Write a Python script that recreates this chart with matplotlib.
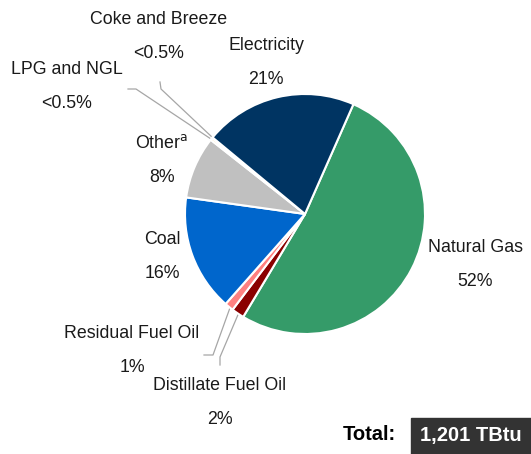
import numpy as np
import matplotlib.pyplot as plt

plt.rcParams['font.family'] = ['Liberation Sans', 'DejaVu Sans']

# shares in percent, clockwise starting at Natural Gas
sectors = ['Natural Gas', 'Distillate Fuel Oil', 'Residual Fuel Oil', 'Coal',
           'Other', 'LPG and NGL', 'Coke and Breeze', 'Electricity']
shares = [52.0, 1.7, 1.2, 15.7, 8.4, 0.3, 0.1, 20.6]
pct_labels = ['52%', '2%', '1%', '16%', '8%', '<0.5%', '<0.5%', '21%']
colors = ['#359B69', '#8B0000', '#FF8080', '#0066CC',
          '#C0C0C0', '#FFC000', '#F2F2F2', '#003462']
total_label = '1,201 TBtu'

W, H = 531, 454


def px(x, y):
    # pixel position (from top-left) to data coords
    return x, H - y


fig = plt.figure(figsize=(W / 100, H / 100), dpi=100)
ax = fig.add_axes([0, 0, 1, 1])

cx, cy = px(305, 214)
R = 120
wedges, _ = ax.pie(shares, colors=colors, startangle=66.2, counterclock=False,
                   center=(cx, cy), radius=R,
                   wedgeprops=dict(edgecolor='white', linewidth=1.5))
ax.set_xlim(0, W)
ax.set_ylim(0, H)
ax.set_aspect('equal')
ax.axis('off')

fs = 12.8
# label name / percent positions (pixel coords of centre of text)
label_pos = {
    'Natural Gas': (475, 248),
    'Distillate Fuel Oil': (220, 386),
    'Residual Fuel Oil': (132, 334),
    'Coal': (162, 240),
    'Other': (162, 143),
    'LPG and NGL': (67, 70),
    'Coke and Breeze': (159, 20),
    'Electricity': (266, 45),
}
for name, pct in zip(sectors, pct_labels):
    x, y = label_pos[name]
    txt = 'Other$^{\\mathrm{a}}$' if name == 'Other' else name
    ax.text(*px(x, y), txt, fontsize=fs, ha='center', va='center', color='#1a1a1a')
    ax.text(*px(x, y + 34), pct, fontsize=fs, ha='center', va='center', color='#1a1a1a')


def wedge_point(w, frac=0.97):
    ang = np.deg2rad((w.theta1 + w.theta2) / 2)
    return cx + frac * R * np.cos(ang), cy + frac * R * np.sin(ang)


# leader lines: label-side points then wedge point
leaders = {
    'LPG and NGL': [(128, 89), (136, 89)],
    'Coke and Breeze': [(160, 82), (161, 89)],
    'Residual Fuel Oil': [(204, 355), (213, 355)],
    'Distillate Fuel Oil': [(220, 365), (220, 357)],
}
for name, pts in leaders.items():
    w = wedges[sectors.index(name)]
    xs = [px(*p)[0] for p in pts]
    ys = [px(*p)[1] for p in pts]
    wx, wy = wedge_point(w)
    ax.plot(xs + [wx], ys + [wy], color='#a6a6a6', lw=0.9, zorder=0.5)

ax.text(*px(369, 435), 'Total:', fontsize=14.5, fontweight='bold',
        ha='center', va='center', color='black')
bx0, by0 = px(411, 454)
ax.add_patch(plt.Rectangle((bx0, by0), W - 411, 36, color='#333333', zorder=2))
ax.text(*px(471, 435), total_label, fontsize=14.5, fontweight='bold',
        ha='center', va='center', color='white', zorder=3)

fig.savefig('out.png', dpi=100)
